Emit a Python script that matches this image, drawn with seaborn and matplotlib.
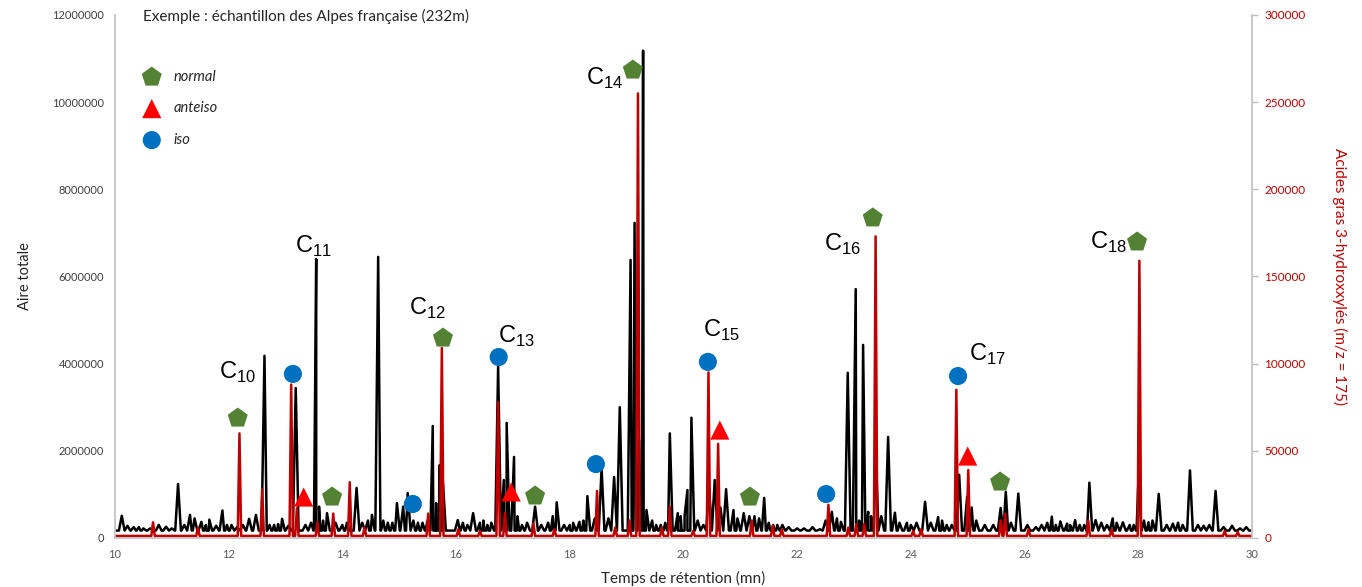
import pandas as pd
import matplotlib
matplotlib.use("Agg")
import matplotlib.pyplot as plt
import seaborn as sns

# chromatogramme total : temps de rétention (mn) et hauteur des pics (x 1e6)
tic_rt = [10.12, 10.33, 10.50, 10.77, 11.11, 11.32, 11.40, 11.52, 11.66, 11.89,
          12.05, 12.36, 12.48, 12.63, 12.80, 12.94, 13.18, 13.35, 13.54, 13.59,
          13.73, 14.00, 14.25, 14.45, 14.52, 14.63, 14.80, 14.96, 15.07, 15.15,
          15.41, 15.59, 15.65, 15.71, 15.77, 16.03, 16.30, 16.42, 16.55, 16.74,
          16.84, 16.89, 17.02, 17.16, 17.39, 17.77, 18.06, 18.17, 18.31, 18.56,
          18.78, 18.88, 19.07, 19.14, 19.22, 19.29, 19.35, 19.60, 19.76, 19.90,
          20.07, 20.14, 20.35, 20.45, 20.55, 20.75, 20.88, 21.06, 21.16, 21.42,
          21.58, 21.74, 22.27, 22.61, 22.77, 22.89, 23.03, 23.16, 23.25, 23.38,
          23.60, 23.72, 23.93, 24.25, 24.48, 24.63, 24.85, 24.99, 25.07, 25.30,
          25.58, 25.67, 25.89, 26.20, 26.48, 26.63, 26.75, 26.89, 27.14, 27.25,
          27.55, 27.73, 28.01, 28.18, 28.36, 28.61, 28.91, 29.36, 29.79]
tic_h = [0.51, 0.25, 0.22, 0.30, 1.24, 0.53, 0.45, 0.37, 0.42, 0.63,
         0.30, 0.44, 0.53, 4.18, 0.30, 0.44, 3.44, 0.30, 6.40, 0.72,
         0.57, 0.30, 1.15, 0.40, 0.53, 6.45, 0.35, 0.80, 0.72, 1.03,
         0.35, 2.57, 0.80, 1.67, 1.26, 0.41, 0.57, 0.35, 0.30, 3.93,
         1.33, 2.64, 1.86, 0.30, 0.72, 0.82, 0.35, 0.37, 0.96, 1.60,
         1.40, 3.00, 6.38, 7.23, 2.25, 11.18, 0.64, 0.30, 2.40, 0.57,
         1.10, 2.76, 0.30, 1.15, 1.33, 1.12, 0.64, 0.57, 0.50, 0.92,
         0.30, 0.30, 0.25, 0.60, 0.37, 3.79, 5.71, 4.43, 0.60, 2.11,
         2.32, 0.58, 0.35, 0.83, 0.48, 0.30, 1.45, 0.95, 0.70, 0.30,
         0.69, 1.06, 1.02, 0.25, 0.49, 0.38, 0.33, 0.41, 1.27, 0.41,
         0.45, 0.36, 1.58, 0.36, 1.01, 0.33, 1.55, 1.08, 0.22]
# petites ondulations de la ligne de base (x 1e6)
noise_rt = [10.22, 10.42, 10.62, 10.90, 11.00, 11.22, 11.60, 11.78, 11.97, 12.15,
            12.25, 12.72, 12.87, 13.05, 13.45, 13.66, 13.88, 14.08, 14.35, 14.72,
            14.88, 15.25, 15.33, 15.50, 16.12, 16.20, 16.48, 16.62, 17.08, 17.25,
            17.50, 17.62, 17.70, 17.90, 18.00, 18.24, 18.44, 18.68, 19.45, 19.52,
            19.68, 19.95, 20.02, 20.25, 20.65, 20.95, 21.25, 21.33, 21.50, 21.65,
            21.85, 22.00, 22.12, 22.40, 22.50, 22.70, 23.09, 23.30, 23.48, 23.80,
            24.00, 24.10, 24.35, 24.55, 24.72, 25.15, 25.45, 25.76, 26.05, 26.30,
            26.40, 26.55, 26.80, 26.97, 27.05, 27.35, 27.45, 27.62, 27.85, 27.92,
            28.10, 28.25, 28.50, 28.70, 28.78, 29.05, 29.15, 29.25, 29.50, 29.65,
            29.90]
noise_h = [0.28, 0.25, 0.22, 0.26, 0.22, 0.30, 0.30, 0.28, 0.30, 0.25,
           0.30, 0.30, 0.32, 0.28, 0.35, 0.40, 0.35, 0.35, 0.35, 0.40,
           0.35, 0.40, 0.35, 0.40, 0.35, 0.30, 0.40, 0.35, 0.50, 0.35,
           0.30, 0.35, 0.50, 0.30, 0.30, 0.40, 0.45, 0.45, 0.40, 0.30,
           0.35, 0.50, 0.50, 0.40, 0.70, 0.45, 0.50, 0.45, 0.35, 0.30,
           0.25, 0.22, 0.22, 0.20, 0.40, 0.45, 0.40, 0.50, 0.50, 0.35,
           0.30, 0.35, 0.35, 0.40, 0.30, 0.40, 0.30, 0.35, 0.30, 0.30,
           0.35, 0.30, 0.30, 0.30, 0.30, 0.35, 0.30, 0.35, 0.30, 0.30,
           0.40, 0.40, 0.30, 0.35, 0.30, 0.30, 0.28, 0.30, 0.25, 0.28,
           0.25]
tic_base = 0.17

# acides gras 3-hydroxylés (m/z = 175), hauteur des pics (x 1000)
hfa_rt = [10.67, 11.46, 12.19, 12.59, 13.10, 13.20, 13.56, 13.84, 14.13, 14.39,
          15.51, 15.75, 16.04, 16.42, 16.74, 16.86, 17.36, 17.73, 18.48, 18.80,
          19.05, 19.20, 19.62, 19.76, 20.17, 20.44, 20.61, 21.20, 21.57, 21.73,
          22.55, 22.90, 23.04, 23.18, 23.38, 24.04, 24.18, 24.80, 25.01, 25.58,
          25.66, 26.07, 27.12, 27.53, 28.02, 29.52, 29.75]
hfa_h = [9, 6, 60, 28, 88, 17, 9, 14, 32, 6,
         14, 109, 5, 4, 78, 14.5, 8.5, 5, 27, 6,
         10, 255, 6, 18, 4, 95, 54, 10, 7, 5,
         19, 6, 8, 8, 173, 4, 5, 85, 39, 10,
         14, 5, 10, 5, 159, 4, 3.5]
hfa_base = 1.2

# symboles (position en unités de l'axe de droite, x 1000)
normal_t = [12.16, 13.82, 15.77, 17.39, 19.11, 21.17, 23.33, 25.57, 27.98]
normal_y = [68.8, 23.5, 114.7, 24.1, 268.4, 23.5, 183.6, 32.1, 169.8]
anteiso_t = [13.32, 16.97, 20.64, 25.00]
anteiso_y = [23.5, 26.4, 61.9, 47.0]
iso_t = [13.13, 15.24, 16.75, 18.46, 20.43, 22.51, 24.83]
iso_y = [94.1, 19.5, 103.8, 42.4, 101.0, 25.2, 92.9]

# étiquettes des chaînes
chain_labels = ["10", "11", "12", "13", "14", "15", "16", "17", "18"]
chain_t = [12.15, 13.50, 15.49, 17.07, 18.62, 20.66, 22.79, 25.34, 27.47]
chain_y = [95.2, 167.5, 131.9, 115.9, 263.9, 119.3, 168.6, 105.5, 169.8]


def trace(rt, h, base, w, scale):
    pts = [(10.0, base * scale), (30.0, base * scale)]
    for t, v in zip(rt, h):
        pts += [(t - w, base * scale), (t, v * scale), (t + w, base * scale)]
    return pd.DataFrame(pts, columns=["t", "v"]).sort_values("t", kind="stable")


sns.set_style("white")
plt.rcParams["font.family"] = ["Lato", "DejaVu Sans"]
plt.rcParams["mathtext.fontset"] = "custom"
plt.rcParams["mathtext.rm"] = "Liberation Sans"

fig = plt.figure(figsize=(13.62, 5.87), dpi=100)
ax = fig.add_axes([0.0844, 0.0835, 0.8348, 0.891])
ax2 = ax.twinx()

tic = trace(tic_rt + noise_rt, tic_h + noise_h, tic_base, 0.05, 1e6)
hfa = trace(hfa_rt, hfa_h, hfa_base, 0.03, 1e3)
sns.lineplot(data=tic, x="t", y="v", ax=ax, color="black", lw=1.8,
             estimator=None, sort=False)
sns.lineplot(data=hfa, x="t", y="v", ax=ax2, color="#C00000", lw=1.8,
             estimator=None, sort=False)

sns.scatterplot(x=normal_t, y=[v * 1e3 for v in normal_y], ax=ax2, marker="p",
                s=230, color="#548235", edgecolor="none", label="normal", zorder=5)
sns.scatterplot(x=anteiso_t, y=[v * 1e3 for v in anteiso_y], ax=ax2, marker="^",
                s=190, color="#FF0000", edgecolor="none", label="anteiso", zorder=5)
sns.scatterplot(x=iso_t, y=[v * 1e3 for v in iso_y], ax=ax2, marker="o",
                s=170, color="#0070C0", edgecolor="none", label="iso", zorder=5)

for lab, t, y in zip(chain_labels, chain_t, chain_y):
    ax2.text(t, y * 1e3, "C$_{" + lab + "}$", ha="center", va="center",
             fontsize=17, family="Liberation Sans", color="black")

ax.set_xlim(10, 30)
ax.set_ylim(0, 12000000)
ax2.set_ylim(0, 300000)
ax.set_xticks(range(10, 31, 2))
ax.set_yticks(range(0, 12000001, 2000000))
ax2.set_yticks(range(0, 300001, 50000))
ax.ticklabel_format(axis="y", style="plain", useOffset=False)
ax2.ticklabel_format(axis="y", style="plain", useOffset=False)

ax.set_ylabel("Aire totale", fontsize=10.5, labelpad=14)
ax2.set_ylabel("Acides gras 3-hydroxxylés (m/z = 175)", fontsize=11,
               color="#C00000", rotation=270, labelpad=30)
ax2.set_xlabel("")
ax.set_xlabel("Temps de rétention (mn)", fontsize=11, labelpad=8)

ax.tick_params(axis="x", length=0, labelsize=8, labelcolor="#595959", pad=8)
ax.tick_params(axis="y", length=0, labelsize=8, labelcolor="#404040", pad=8)
ax2.tick_params(axis="y", length=4, width=1, color="#BFBFBF", labelsize=8.5,
                labelcolor="#C00000", pad=5)

for a in (ax, ax2):
    a.spines["top"].set_visible(False)
    for s in ("left", "right", "bottom"):
        a.spines[s].set_color("#C8C8C8")
        a.spines[s].set_linewidth(1.2)

ax2.legend(loc="upper left", bbox_to_anchor=(0.008, 0.92), frameon=False,
           prop={"style": "italic", "size": 10.5}, labelspacing=1.2,
           handletextpad=0.5)

fig.text(0.105, 0.972, "Exemple : échantillon des Alpes française (232m)",
         fontsize=11, va="center", ha="left")

fig.savefig("out.png", dpi=100)
